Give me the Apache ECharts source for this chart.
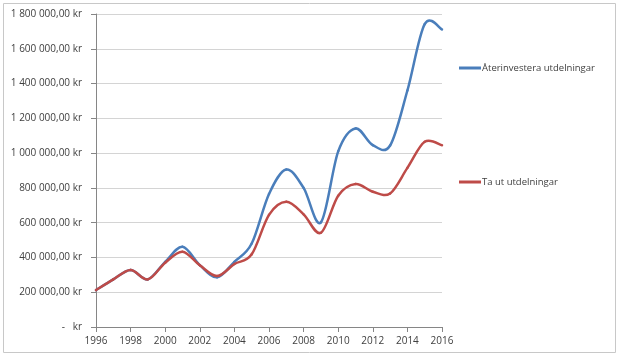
<!DOCTYPE html>
<html><head><meta charset="utf-8">
<script src="https://cdn.jsdelivr.net/npm/echarts@6/dist/echarts.min.js"></script>
<style>html,body{margin:0;padding:0;background:#fff}#c{width:620px;height:359px}</style>
</head><body><div id="c"></div>
<script>
var years = ['1996','1997','1998','1999','2000','2001','2002','2003','2004','2005','2006','2007','2008','2009','2010','2011','2012','2013','2014','2015','2016'];
var reinvest = [212000,274000,328000,274000,375000,461000,356000,286000,375000,480000,765000,906000,800000,602000,1010000,1142000,1046000,1044000,1360000,1742000,1711000];
var withdraw = [212000,274000,328000,274000,370000,433000,355000,293000,362000,418000,645000,720000,648000,542000,755000,822000,778000,768000,915000,1065000,1045000];
var yTicks = {min:0, max:1800000, step:200000};
var names = ['Återinvestera utdelningar','Ta ut utdelningar'];
var colors = ['#4a7ebb','#be4b48'];

function fmt(v){
  if(v===0) return '-   kr';
  var s = String(Math.round(v)).replace(/\B(?=(\d{3})+(?!\d))/g,' ');
  return s + ',00 kr';
}
// Excel-like smoothed line (Catmull-Rom bezier), drawn through the axis scales
function splineRenderer(arr, color){
  return function(params, api){
    var i = params.dataIndex;
    if (i >= arr.length - 1) return null;
    var n = arr.length;
    function P(k){ k = Math.max(0, Math.min(n-1, k)); return api.coord([k, arr[k]]); }
    var p0 = P(i-1), p1 = P(i), p2 = P(i+1), p3 = P(i+2);
    return {
      type:'bezierCurve',
      shape:{x1:p1[0],y1:p1[1],x2:p2[0],y2:p2[1],
        cpx1:p1[0]+(p2[0]-p0[0])/6, cpy1:p1[1]+(p2[1]-p0[1])/6,
        cpx2:p2[0]-(p3[0]-p1[0])/6, cpy2:p2[1]-(p3[1]-p1[1])/6},
      style:{stroke:color,lineWidth:2.5,fill:null,lineCap:'round'}
    };
  };
}
function toData(arr){ return arr.map(function(v,i){ return [i, v]; }); }

var chart = echarts.init(document.getElementById('c'));
var font = 'Open Sans';
chart.setOption({
  animation:false,
  graphic:[{type:'rect',shape:{x:3.5,y:3.5,width:612,height:349},style:{fill:'none',stroke:'#c8c8c8',lineWidth:1}}],
  grid:{left:96,right:178,top:14,bottom:32},
  legend:[
    {data:[names[0]],left:454,top:58,icon:'rect',itemWidth:22,itemHeight:3,itemGap:0,
     textStyle:{fontFamily:font,fontSize:9.5,color:'#404040',padding:[0,0,0,-4]}},
    {data:[names[1]],left:454,top:172,icon:'rect',itemWidth:22,itemHeight:3,itemGap:0,
     textStyle:{fontFamily:font,fontSize:9.5,color:'#404040',padding:[0,0,0,-4]}}
  ],
  xAxis:{type:'category',data:years,boundaryGap:false,
    axisLine:{lineStyle:{color:'#868686',width:1}},
    axisTick:{interval:1,length:5,lineStyle:{color:'#868686'}},
    axisLabel:{interval:1,fontFamily:font,fontSize:10,color:'#404040',margin:9},
    splitLine:{show:false}},
  yAxis:{type:'value',min:yTicks.min,max:yTicks.max,interval:yTicks.step,
    axisLine:{show:true,lineStyle:{color:'#868686',width:1}},
    axisTick:{show:true,length:5,lineStyle:{color:'#868686'}},
    axisLabel:{formatter:fmt,fontFamily:font,fontSize:10,color:'#404040',margin:14},
    splitLine:{lineStyle:{color:'#d4d4d4',width:1}}},
  series:[
    {name:names[0],type:'custom',data:toData(reinvest),renderItem:splineRenderer(reinvest,colors[0]),
     encode:{x:0,y:1},itemStyle:{color:colors[0]}},
    {name:names[1],type:'custom',data:toData(withdraw),renderItem:splineRenderer(withdraw,colors[1]),
     encode:{x:0,y:1},itemStyle:{color:colors[1]}}
  ]
});
</script></body></html>
